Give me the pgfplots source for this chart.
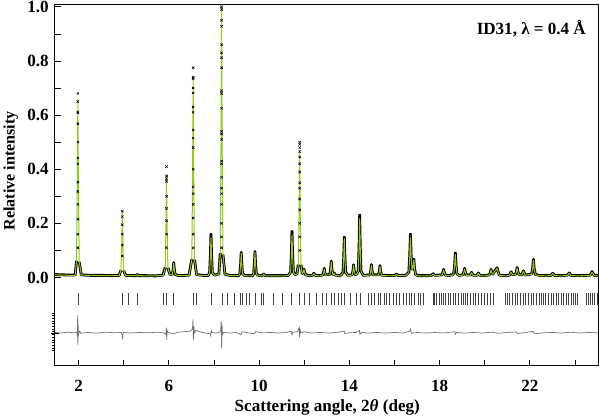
\documentclass[border=0pt]{standalone}
\usepackage{fontspec}
\setmainfont{Liberation Serif}
\usepackage{pgfplots}
\usepackage{pgfplotstable}
\pgfplotsset{compat=1.18}
\definecolor{calcgreen}{RGB}{150,200,30}
\definecolor{diffgray}{RGB}{115,115,115}
\newcommand{\lab}{\fontsize{17}{20}\selectfont\bfseries}
\newcommand{\ylab}{\fontsize{16}{19}\selectfont\bfseries}

% observed (obs, nan where the steep flank is only shown by marks) and calculated profile
\pgfplotstableread{
x obs calc
0.95 0.011 0.010
1.30 0.010 0.009
1.60 0.009 0.008
1.85 0.009 0.008
1.91 0.062 0.060
1.945 nan 0.334
1.97 nan 0.660
1.995 nan 0.334
2.03 0.058 0.060
2.12 0.010 0.009
2.50 0.008 0.008
3.00 0.008 0.007
3.50 0.007 0.007
3.80 0.008 0.007
3.88 0.027 0.026
3.915 nan 0.123
3.94 nan 0.240
3.965 nan 0.123
4.00 0.025 0.026
4.09 0.008 0.007
4.40 0.007 0.007
4.55 0.007 0.007
4.61 0.011 0.010
4.67 0.007 0.007
5.00 0.007 0.006
5.40 0.006 0.006
5.75 0.009 0.008
5.84 0.038 0.035
5.875 nan 0.188
5.90 nan 0.370
5.925 nan 0.188
5.96 0.036 0.035
6.05 0.011 0.010
6.16 0.013 0.012
6.195 0.031 0.030
6.22 0.055 0.052
6.245 0.031 0.030
6.28 0.012 0.012
6.37 0.008 0.007
6.60 0.007 0.007
6.90 0.009 0.008
7.02 0.068 0.065
7.055 nan 0.373
7.08 nan 0.740
7.105 nan 0.373
7.14 0.066 0.065
7.23 0.011 0.010
7.50 0.008 0.007
7.75 0.007 0.007
7.81 0.020 0.019
7.845 0.084 0.081
7.87 0.160 0.155
7.895 0.083 0.081
7.93 0.019 0.019
8.02 0.009 0.008
8.22 0.013 0.012
8.28 0.090 0.087
8.315 nan 0.503
8.34 nan 1.000
8.365 nan 0.503
8.40 0.085 0.087
8.49 0.012 0.012
8.70 0.008 0.007
9.00 0.007 0.007
9.10 0.007 0.007
9.15 0.015 0.014
9.185 0.050 0.048
9.21 0.093 0.090
9.235 0.049 0.048
9.27 0.014 0.014
9.36 0.008 0.007
9.60 0.007 0.006
9.72 0.007 0.007
9.76 0.015 0.014
9.795 0.051 0.050
9.82 0.096 0.093
9.845 0.051 0.050
9.88 0.015 0.014
9.97 0.008 0.007
10.12 0.007 0.006
10.18 0.010 0.009
10.21 0.013 0.013
10.24 0.009 0.009
10.30 0.007 0.006
10.60 0.007 0.006
11.00 0.007 0.006
11.30 0.008 0.007
11.40 0.020 0.019
11.435 0.089 0.086
11.46 0.170 0.165
11.485 0.088 0.086
11.52 0.021 0.020
11.60 0.011 0.010
11.68 0.013 0.012
11.74 0.048 0.045
11.775 nan 0.240
11.80 nan 0.470
11.825 nan 0.240
11.86 0.047 0.045
11.92 0.015 0.014
11.965 0.021 0.020
11.99 0.031 0.030
12.015 0.021 0.020
12.06 0.011 0.010
12.20 0.007 0.006
12.37 0.008 0.007
12.43 0.016 0.015
12.49 0.008 0.007
12.70 0.007 0.006
12.83 0.010 0.009
12.865 0.020 0.019
12.89 0.034 0.032
12.915 0.020 0.019
12.95 0.010 0.009
13.14 0.011 0.010
13.175 0.034 0.032
13.20 0.061 0.058
13.225 0.034 0.032
13.26 0.013 0.012
13.30 0.011 0.010
13.33 0.017 0.016
13.37 0.009 0.008
13.60 0.007 0.006
13.72 0.018 0.017
13.755 0.078 0.076
13.78 0.148 0.145
13.805 0.078 0.076
13.84 0.019 0.018
13.95 0.008 0.007
14.13 0.010 0.009
14.165 0.027 0.026
14.19 0.047 0.045
14.215 0.027 0.026
14.26 0.011 0.010
14.33 0.013 0.012
14.40 0.024 0.023
14.435 0.117 0.113
14.46 0.230 0.220
14.485 0.116 0.113
14.52 0.024 0.023
14.62 0.008 0.007
14.92 0.010 0.009
14.955 0.027 0.026
14.98 0.048 0.046
15.005 0.027 0.026
15.05 0.010 0.009
15.30 0.010 0.009
15.335 0.025 0.024
15.36 0.044 0.042
15.385 0.025 0.024
15.43 0.009 0.008
15.80 0.007 0.006
16.02 0.008 0.007
16.09 0.013 0.012
16.16 0.008 0.007
16.50 0.008 0.007
16.64 0.019 0.018
16.68 0.083 0.080
16.71 0.160 0.155
16.74 0.083 0.080
16.78 0.031 0.030
16.82 0.035 0.034
16.86 0.068 0.065
16.89 0.035 0.034
16.94 0.011 0.010
17.05 0.007 0.006
17.50 0.007 0.006
17.65 0.008 0.007
17.72 0.014 0.013
17.79 0.008 0.007
18.11 0.010 0.009
18.15 0.019 0.018
18.18 0.030 0.028
18.21 0.019 0.018
18.26 0.009 0.008
18.43 0.007 0.006
18.50 0.010 0.009
18.56 0.009 0.008
18.63 0.015 0.014
18.67 0.048 0.046
18.70 0.090 0.086
18.73 0.048 0.046
18.77 0.015 0.014
18.85 0.008 0.007
19.04 0.010 0.009
19.08 0.021 0.020
19.11 0.034 0.032
19.14 0.021 0.020
19.19 0.009 0.008
19.36 0.009 0.008
19.42 0.019 0.018
19.48 0.009 0.008
19.66 0.008 0.007
19.72 0.017 0.016
19.78 0.008 0.007
20.00 0.007 0.006
20.21 0.010 0.009
20.25 0.019 0.018
20.28 0.030 0.028
20.31 0.020 0.019
20.37 0.013 0.012
20.44 0.023 0.022
20.50 0.030 0.028
20.55 0.036 0.034
20.59 0.023 0.022
20.65 0.009 0.008
20.95 0.007 0.006
21.10 0.009 0.008
21.17 0.021 0.020
21.24 0.011 0.010
21.37 0.012 0.011
21.41 0.023 0.022
21.44 0.037 0.035
21.47 0.023 0.022
21.52 0.011 0.010
21.65 0.010 0.009
21.72 0.025 0.024
21.79 0.009 0.008
22.08 0.013 0.012
22.13 0.036 0.035
22.16 0.067 0.064
22.19 0.036 0.035
22.25 0.011 0.010
22.50 0.007 0.006
22.56 0.009 0.008
22.62 0.007 0.006
22.95 0.008 0.007
23.02 0.016 0.015
23.09 0.008 0.007
23.40 0.007 0.006
23.68 0.009 0.008
23.75 0.017 0.016
23.82 0.008 0.007
24.25 0.007 0.006
24.31 0.009 0.008
24.37 0.007 0.006
24.68 0.009 0.008
24.73 0.016 0.015
24.76 0.022 0.020
24.80 0.015 0.014
24.86 0.008 0.007
25.05 0.007 0.006
}\profile

% observed points on the steep peak flanks
\pgfplotstableread{
x y
1.970 0.680
1.968 0.650
1.972 0.612
1.968 0.608
1.970 0.568
1.972 0.500
1.968 0.442
1.970 0.420
1.972 0.352
1.968 0.318
1.970 0.270
1.972 0.215
1.968 0.160
1.970 0.110
3.940 0.245
3.942 0.225
3.938 0.195
3.940 0.160
3.942 0.120
3.938 0.080
5.900 0.410
5.902 0.375
5.898 0.365
5.900 0.355
5.902 0.300
5.898 0.255
5.900 0.210
5.902 0.160
5.898 0.110
7.080 0.775
7.082 0.740
7.078 0.735
7.080 0.700
7.082 0.682
7.078 0.630
7.080 0.610
7.082 0.545
7.078 0.515
7.080 0.480
7.082 0.400
7.078 0.335
7.080 0.310
7.082 0.270
7.078 0.220
7.080 0.160
7.082 0.110
7.870 0.160
7.872 0.152
8.340 1.000
8.342 0.990
8.338 0.950
8.340 0.928
8.342 0.860
8.338 0.830
8.340 0.812
8.342 0.775
8.338 0.690
8.340 0.680
8.342 0.625
8.338 0.540
8.340 0.530
8.342 0.510
8.338 0.430
8.340 0.420
8.342 0.370
8.338 0.330
8.340 0.310
8.342 0.270
8.338 0.200
8.340 0.150
8.342 0.110
11.460 0.170
11.462 0.160
11.800 0.500
11.802 0.492
11.798 0.480
11.800 0.465
11.802 0.445
11.798 0.420
11.800 0.390
11.802 0.350
11.798 0.330
11.800 0.290
11.802 0.250
11.798 0.200
11.800 0.150
11.802 0.100
13.780 0.148
14.460 0.230
14.462 0.222
16.710 0.160
16.712 0.152
18.700 0.090
}\obsmarks

% Bragg reflection positions
\pgfplotstableread{
x y
1.97 -0.081
3.94 -0.081
4.21 -0.081
4.61 -0.081
5.75 -0.081
5.90 -0.081
6.21 -0.081
7.08 -0.081
7.20 -0.081
7.87 -0.081
8.36 -0.081
8.61 -0.081
8.90 -0.081
9.17 -0.081
9.28 -0.081
9.42 -0.081
9.57 -0.081
9.82 -0.081
10.09 -0.081
10.21 -0.081
10.65 -0.081
11.05 -0.081
11.45 -0.081
11.79 -0.081
11.99 -0.081
12.24 -0.081
12.53 -0.081
12.79 -0.081
12.98 -0.081
13.20 -0.081
13.35 -0.081
13.53 -0.081
13.64 -0.081
13.79 -0.081
14.06 -0.081
14.31 -0.081
14.50 -0.081
14.83 -0.081
14.98 -0.081
15.13 -0.081
15.27 -0.081
15.39 -0.081
15.54 -0.081
15.64 -0.081
15.79 -0.081
15.94 -0.081
16.09 -0.081
16.21 -0.081
16.39 -0.081
16.53 -0.081
16.64 -0.081
16.76 -0.081
16.90 -0.081
17.05 -0.081
17.17 -0.081
17.27 -0.081
17.72 -0.081
17.79 -0.081
17.87 -0.081
17.97 -0.081
18.06 -0.081
18.16 -0.081
18.27 -0.081
18.39 -0.081
18.50 -0.081
18.61 -0.081
18.71 -0.081
18.83 -0.081
18.95 -0.081
19.05 -0.081
19.13 -0.081
19.24 -0.081
19.35 -0.081
19.50 -0.081
19.60 -0.081
19.72 -0.081
19.87 -0.081
19.99 -0.081
20.13 -0.081
20.24 -0.081
20.39 -0.081
20.93 -0.081
21.01 -0.081
21.08 -0.081
21.23 -0.081
21.35 -0.081
21.47 -0.081
21.57 -0.081
21.72 -0.081
21.79 -0.081
21.94 -0.081
22.09 -0.081
22.16 -0.081
22.31 -0.081
22.41 -0.081
22.50 -0.081
22.61 -0.081
22.71 -0.081
22.83 -0.081
22.95 -0.081
23.05 -0.081
23.16 -0.081
23.27 -0.081
23.39 -0.081
23.50 -0.081
23.64 -0.081
23.72 -0.081
23.84 -0.081
23.94 -0.081
24.04 -0.081
24.13 -0.081
24.49 -0.081
24.58 -0.081
24.68 -0.081
24.76 -0.081
24.87 -0.081
24.98 -0.081
}\bragg

% difference curve (obs - calc), offset
\pgfplotstableread{
x y
0.95 -0.203
1.20 -0.205
1.50 -0.202
1.80 -0.204
1.93 -0.203
1.95 -0.220
1.96 -0.140
1.97 -0.250
1.98 -0.170
1.99 -0.215
2.01 -0.205
2.05 -0.198
2.10 -0.206
2.40 -0.203
2.80 -0.205
3.20 -0.202
3.60 -0.204
3.90 -0.203
3.93 -0.212
3.95 -0.228
3.97 -0.205
4.00 -0.203
4.30 -0.205
4.70 -0.203
5.10 -0.204
5.50 -0.202
5.80 -0.205
5.87 -0.210
5.89 -0.185
5.91 -0.230
5.93 -0.196
5.96 -0.203
6.10 -0.205
6.20 -0.208
6.40 -0.202
6.70 -0.200
6.95 -0.198
7.05 -0.190
7.07 -0.155
7.09 -0.230
7.11 -0.180
7.14 -0.205
7.20 -0.195
7.30 -0.198
7.50 -0.203
7.70 -0.206
7.84 -0.208
7.86 -0.215
7.88 -0.195
7.92 -0.203
8.10 -0.205
8.30 -0.200
8.32 -0.160
8.34 -0.260
8.36 -0.175
8.38 -0.210
8.45 -0.202
8.70 -0.205
9.00 -0.203
9.20 -0.212
9.25 -0.200
9.50 -0.204
9.80 -0.208
9.85 -0.200
10.10 -0.204
10.50 -0.203
10.90 -0.205
11.20 -0.203
11.44 -0.198
11.46 -0.212
11.50 -0.202
11.70 -0.200
11.78 -0.185
11.80 -0.222
11.82 -0.193
11.86 -0.204
12.00 -0.200
12.30 -0.205
12.70 -0.203
13.10 -0.205
13.50 -0.202
13.78 -0.198
13.80 -0.207
14.00 -0.204
14.30 -0.203
14.45 -0.195
14.47 -0.210
14.55 -0.202
14.80 -0.205
15.20 -0.203
15.60 -0.205
16.00 -0.203
16.40 -0.205
16.68 -0.198
16.71 -0.190
16.75 -0.206
17.00 -0.203
17.40 -0.205
17.80 -0.203
18.20 -0.205
18.68 -0.200
18.70 -0.210
18.75 -0.203
19.10 -0.205
19.50 -0.203
19.90 -0.205
20.30 -0.202
20.60 -0.206
21.00 -0.203
21.40 -0.201
21.45 -0.207
21.80 -0.203
22.15 -0.199
22.20 -0.208
22.60 -0.204
23.00 -0.203
23.40 -0.205
23.80 -0.202
24.20 -0.205
24.60 -0.203
25.05 -0.204
}\diffcurve

\begin{document}
\begin{tikzpicture}
\begin{axis}[
  scale only axis,
  width=542pt, height=360pt,
  xmin=0.95, xmax=25.05,
  ymin=-0.326, ymax=1.008,
  axis line style={black, line width=0.8pt},
  tick pos=left,
  tick align=inside,
  major tick length=6pt, minor tick length=6pt,
  tick style={black, line width=0.6pt},
  xtick={2,6,10,14,18,22},
  minor xtick={4,8,12,16,20,24},
  ytick={0,0.2,0.4,0.6,0.8,1},
  minor ytick={0.1,0.3,0.5,0.7,0.9},
  /pgf/number format/assume math mode=true,
  ticklabel style={font=\lab, inner sep=1pt},
  yticklabel style={xshift=-5pt, /pgf/number format/fixed, /pgf/number format/fixed zerofill, /pgf/number format/precision=1},
  xticklabel style={yshift=-13pt},
  xlabel={Scattering angle, 2\textit{θ} (deg)},
  ylabel={Relative intensity},
  xlabel style={font=\lab, inner sep=0pt, at={(axis description cs:0.501,-0.127)}, anchor=base},
  ylabel style={font=\ylab, inner sep=3.5pt, at={(axis description cs:-0.081,0.54)}, anchor=center},
  unbounded coords=jump,
  clip=true,
]
\addplot[black, line width=2.8pt, line join=round] table[x=x, y=obs] {\profile};
\addplot[only marks, mark=x, mark size=1.6pt, black, mark options={line width=0.6pt}] table[x=x, y=y] {\obsmarks};
\addplot[calcgreen, line width=1.0pt, line join=round] table[x=x, y=calc] {\profile};
\addplot[only marks, mark=|, mark size=6pt, black!75, mark options={line width=0.7pt}] table[x=x, y=y] {\bragg};
\addplot[diffgray, line width=0.7pt] table[x=x, y=y] {\diffcurve};
\node[anchor=base east, font=\lab] at (rel axis cs:0.983,0.917) {ID31, λ = 0.4 Å};
\end{axis}
% small tick scale of the difference curve
\begin{axis}[
  scale only axis,
  width=542pt, height=360pt,
  xmin=0.95, xmax=25.05,
  ymin=-0.326, ymax=1.008,
  hide x axis,
  axis y line*=left,
  y axis line style={draw=none},
  ytick={-0.27,-0.26,-0.25,-0.24,-0.23,-0.22,-0.21,-0.20,-0.19,-0.18,-0.17,-0.16,-0.15,-0.14,-0.13},
  yticklabels={},
  tick align=outside,
  major tick length=2.5pt,
  tick style={black, line width=0.4pt},
  extra y ticks={-0.205},
  extra y tick labels={},
  extra y tick style={major tick length=8pt, tick align=center, tick style={line width=0.6pt}},
]
\end{axis}
\end{tikzpicture}
\end{document}
